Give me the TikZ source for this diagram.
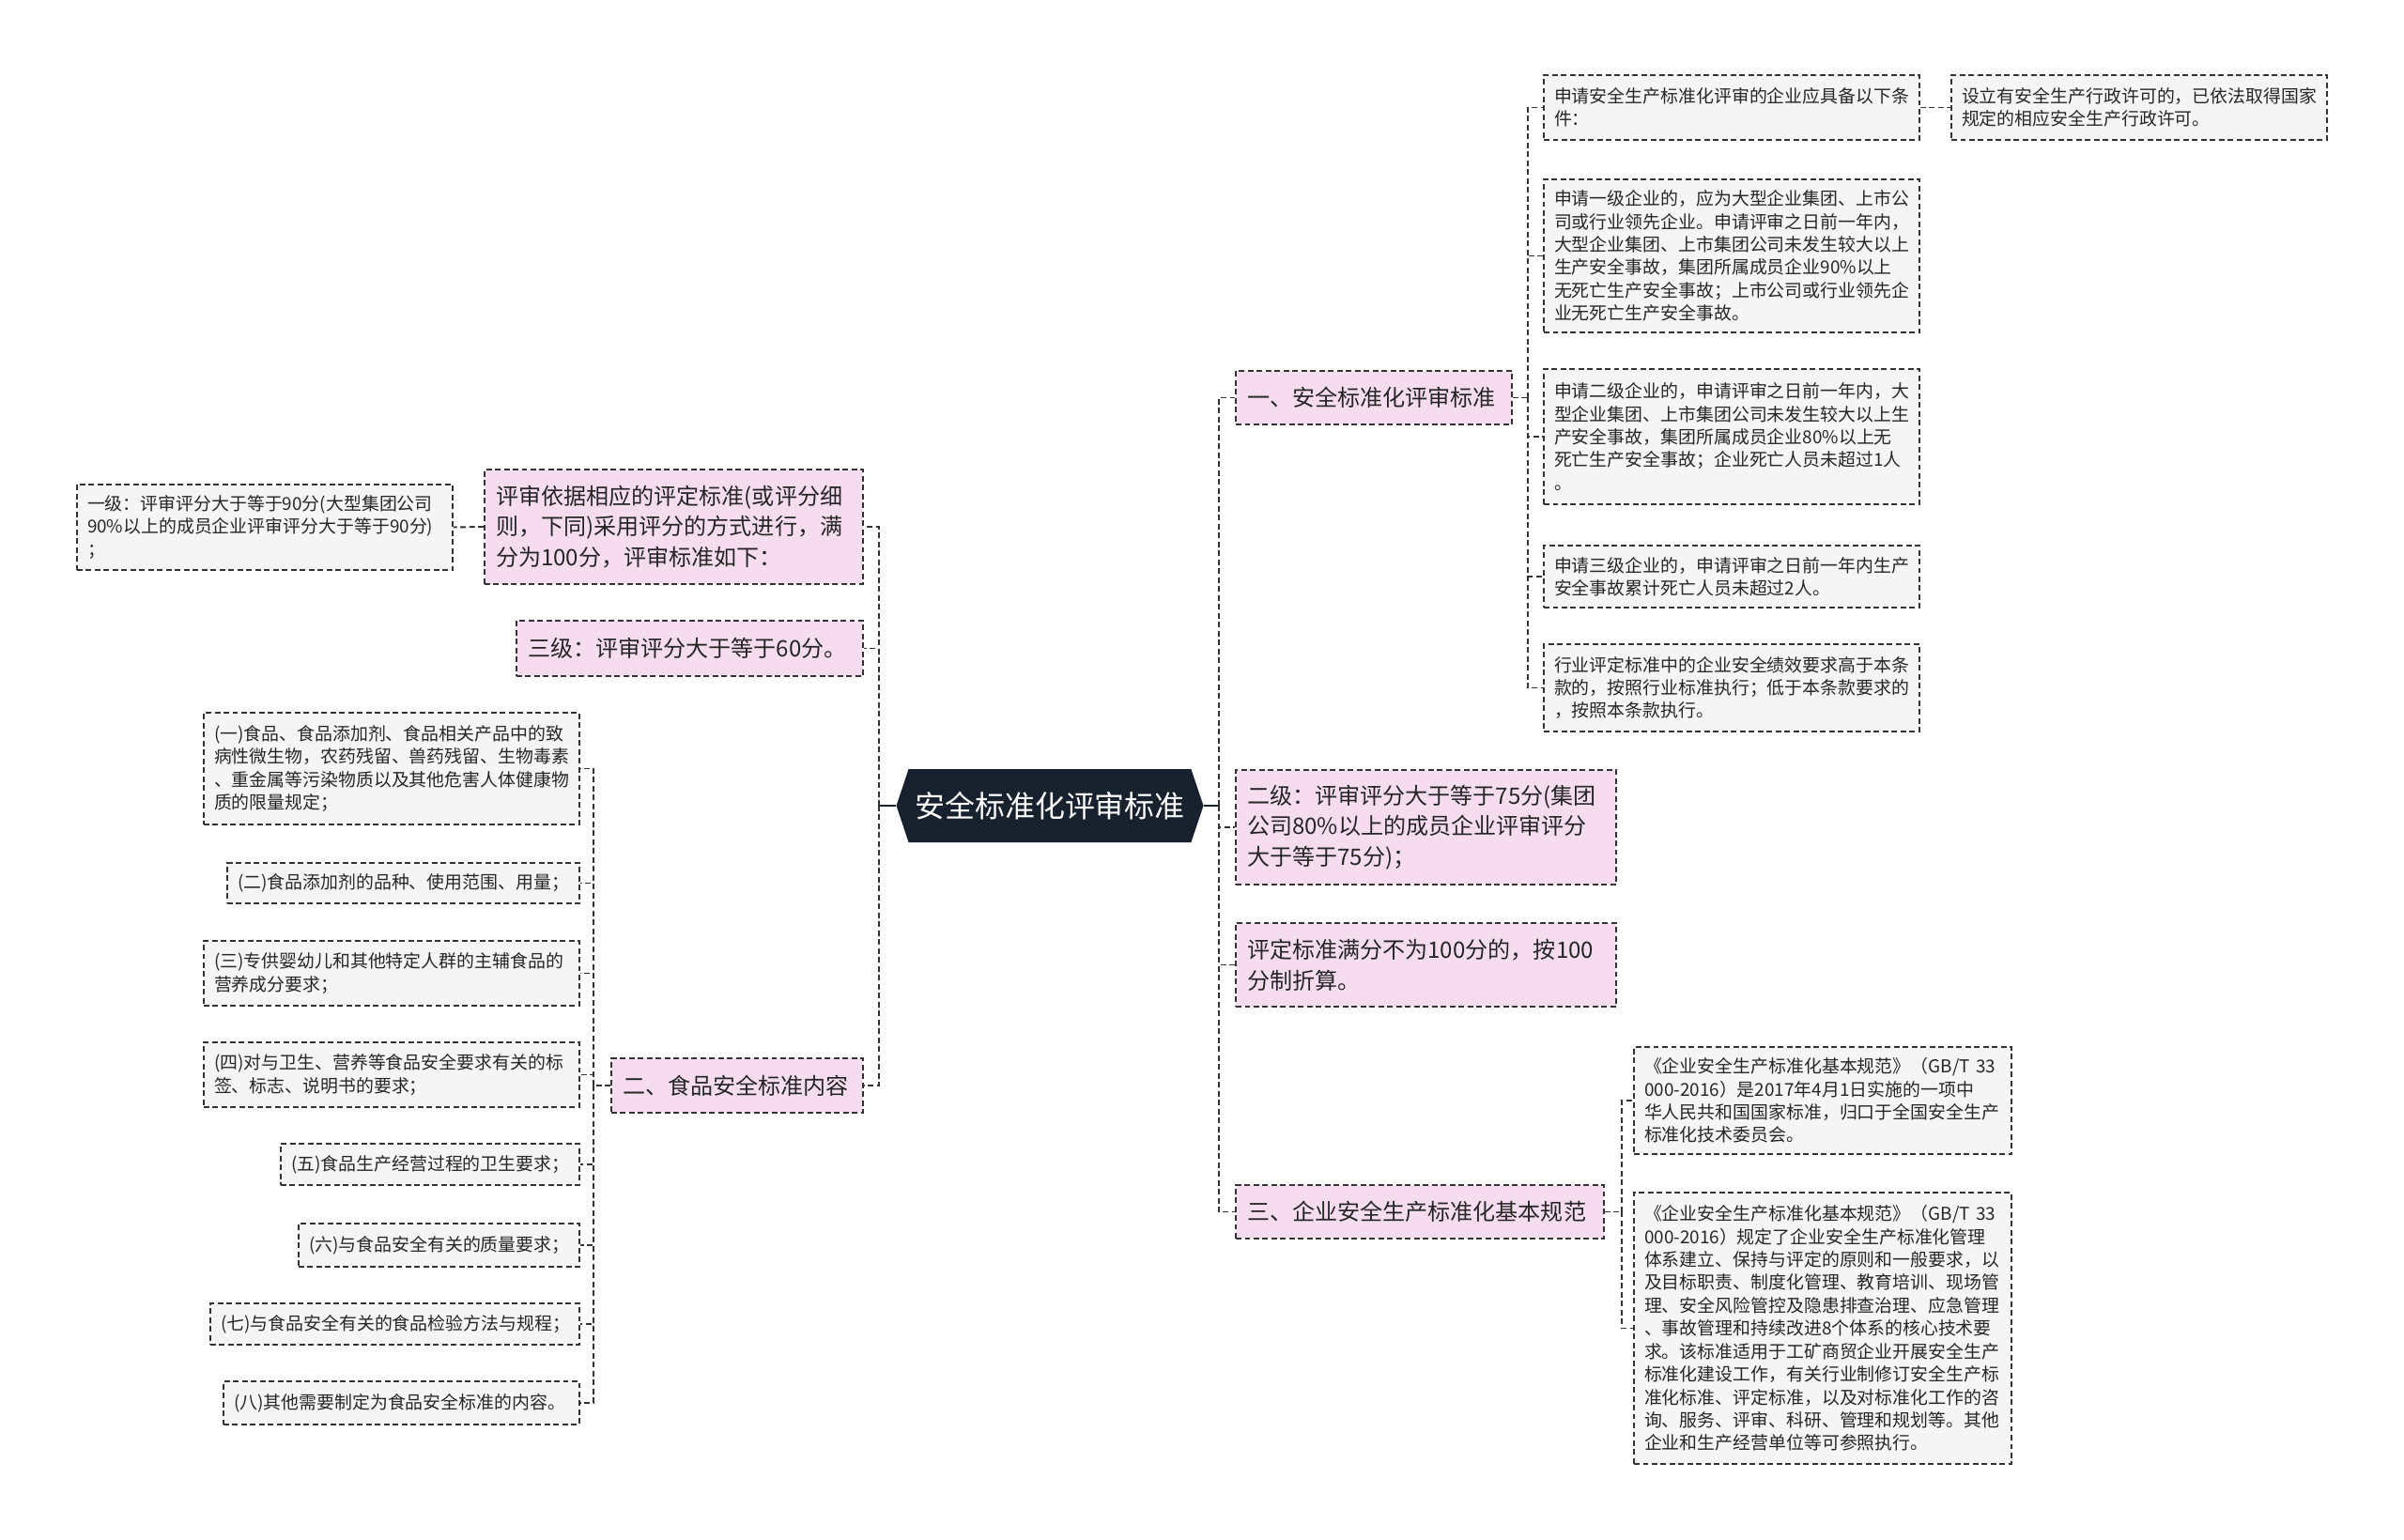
\documentclass[tikz,border=0pt]{standalone}
\usepackage{fontspec}
\setmainfont{Noto Sans CJK SC}
\usepackage{xcolor}
\usepackage{tikz}
\usetikzlibrary{shapes.symbols}

\definecolor{navy}{HTML}{18222F}
\definecolor{topicpink}{HTML}{F5DCEF}
\definecolor{leafgray}{HTML}{F5F5F5}
\definecolor{edgegray}{HTML}{333333}

\tikzset{
  root/.style={signal, signal to=west and east, signal pointer angle=143,
    fill=navy, text=white, font=\fontsize{9.1}{11}\selectfont,
    minimum width=3.27cm, minimum height=0.78cm, inner sep=0pt},
  box/.style={draw=edgegray, dash pattern=on 1.7pt off 1pt, line width=0.55pt,
    align=left, text=black!85},
  topic/.style={box, fill=topicpink, inner xsep=0.12cm,
    font=\fontsize{6.85}{9.3}\selectfont},
  leaf/.style={box, fill=leafgray, inner xsep=0.11cm,
    font=\fontsize{5.38}{6.95}\selectfont},
  link/.style={draw=edgegray, dash pattern=on 1.7pt off 1pt, line width=0.55pt},
  stub/.style={draw=navy, line width=0.8pt},
}

\begin{document}
\begin{tikzpicture}
\useasboundingbox (0,0) rectangle (25.6,-16.4);

% Root
\node[root] (main) at (11.18,-8.58) {安全标准化评审标准};

% Right branch
\node[topic, text width=2.70cm, minimum height=0.57cm] (std) at (14.63,-4.235) {一、安全标准化评审标准};
\node[topic, text width=3.81cm, minimum height=1.22cm] (lvtwo) at (15.185,-8.81) {二级：评审评分大于等于75分(集团\\公司80\%以上的成员企业评审评分\\大于等于75分)；};
\node[topic, text width=3.81cm, minimum height=0.89cm] (fullmark) at (15.185,-10.275) {评定标准满分不为100分的，按100\\分制折算。};
\node[topic, text width=3.68cm, minimum height=0.57cm] (norm) at (15.12,-12.905) {三、企业安全生产标准化基本规范};

% Conditions
\node[leaf, text width=3.78cm, minimum height=0.69cm] (cond) at (18.44,-1.145) {申请安全生产标准化评审的企业应具备以下条\\件：};
\node[leaf, text width=3.78cm, minimum height=0.69cm] (permit) at (22.78,-1.145) {设立有安全生产行政许可的，已依法取得国家\\规定的相应安全生产行政许可。};
\node[leaf, text width=3.78cm, minimum height=1.63cm] (firm1) at (18.44,-2.725) {申请一级企业的，应为大型企业集团、上市公\\司或行业领先企业。申请评审之日前一年内，\\大型企业集团、上市集团公司未发生较大以上\\生产安全事故，集团所属成员企业90\%以上\\无死亡生产安全事故；上市公司或行业领先企\\业无死亡生产安全事故。};
\node[leaf, text width=3.78cm, minimum height=1.44cm] (firm2) at (18.44,-4.65) {申请二级企业的，申请评审之日前一年内，大\\型企业集团、上市集团公司未发生较大以上生\\产安全事故，集团所属成员企业80\%以上无\\死亡生产安全事故；企业死亡人员未超过1人\\。};
\node[leaf, text width=3.78cm, minimum height=0.66cm] (firm3) at (18.44,-6.14) {申请三级企业的，申请评审之日前一年内生产\\安全事故累计死亡人员未超过2人。};
\node[leaf, text width=3.78cm, minimum height=0.93cm] (industry) at (18.44,-7.325) {行业评定标准中的企业安全绩效要求高于本条\\款的，按照行业标准执行；低于本条款要求的\\，按照本条款执行。};

% GB/T 33000
\node[leaf, text width=3.80cm, minimum height=1.14cm] (gbintro) at (19.41,-11.72) {《企业安全生产标准化基本规范》（GB/T 33\\000-2016）是2017年4月1日实施的一项中\\华人民共和国国家标准，归口于全国安全生产\\标准化技术委员会。};
\node[leaf, text width=3.80cm, minimum height=2.89cm] (gbscope) at (19.41,-14.145) {《企业安全生产标准化基本规范》（GB/T 33\\000-2016）规定了企业安全生产标准化管理\\体系建立、保持与评定的原则和一般要求，以\\及目标职责、制度化管理、教育培训、现场管\\理、安全风险管控及隐患排查治理、应急管理\\、事故管理和持续改进8个体系的核心技术要\\求。该标准适用于工矿商贸企业开展安全生产\\标准化建设工作，有关行业制修订安全生产标\\准化标准、评定标准，以及对标准化工作的咨\\询、服务、评审、科研、管理和规划等。其他\\企业和生产经营单位等可参照执行。};

% Left branch
\node[topic, text width=3.79cm, minimum height=1.22cm] (basis) at (7.175,-5.61) {评审依据相应的评定标准(或评分细\\则，下同)采用评分的方式进行，满\\分为100分，评审标准如下：};
\node[leaf, text width=3.78cm, minimum height=0.91cm] (lvone) at (2.82,-5.615) {一级：评审评分大于等于90分(大型集团公司\\90\%以上的成员企业评审评分大于等于90分)\\；};
\node[topic, text width=3.45cm, minimum height=0.59cm] (lvthree) at (7.345,-6.905) {三级：评审评分大于等于60分。};
\node[topic, text width=2.44cm, minimum height=0.58cm] (food) at (7.85,-11.56) {二、食品安全标准内容};

% Food items
\node[leaf, text width=3.78cm, minimum height=1.19cm] (item1) at (4.17,-8.185) {(一)食品、食品添加剂、食品相关产品中的致\\病性微生物，农药残留、兽药残留、生物毒素\\、重金属等污染物质以及其他危害人体健康物\\质的限量规定；};
\node[leaf, text width=3.53cm, minimum height=0.43cm] (item2) at (4.295,-9.405) {(二)食品添加剂的品种、使用范围、用量；};
\node[leaf, text width=3.78cm, minimum height=0.69cm] (item3) at (4.17,-10.365) {(三)专供婴幼儿和其他特定人群的主辅食品的\\营养成分要求；};
\node[leaf, text width=3.78cm, minimum height=0.69cm] (item4) at (4.17,-11.445) {(四)对与卫生、营养等食品安全要求有关的标\\签、标志、说明书的要求；};
\node[leaf, text width=2.96cm, minimum height=0.44cm] (item5) at (4.58,-12.40) {(五)食品生产经营过程的卫生要求；};
\node[leaf, text width=2.77cm, minimum height=0.46cm] (item6) at (4.675,-13.26) {(六)与食品安全有关的质量要求；};
\node[leaf, text width=3.71cm, minimum height=0.44cm] (item7) at (4.205,-14.10) {(七)与食品安全有关的食品检验方法与规程；};
\node[leaf, text width=3.57cm, minimum height=0.46cm] (item8) at (4.275,-14.94) {(八)其他需要制定为食品安全标准的内容。};

% Connectors
\coordinate (rfork) at ([xshift=0.16cm]main.east);
\coordinate (lfork) at ([xshift=-0.18cm]main.west);
\draw[stub] (main.east) -- (rfork);
\draw[stub] (main.west) -- (lfork);
\foreach \n in {std,lvtwo,fullmark,norm}
  \draw[link] (rfork) |- (\n.west);
\foreach \n in {basis,lvthree,food}
  \draw[link] (lfork) |- (\n.east);

\coordinate (stdfork) at ([xshift=0.16cm]std.east);
\draw[link] (std.east) -- (stdfork);
\foreach \n in {cond,firm1,firm2,firm3,industry}
  \draw[link] (stdfork) |- (\n.west);
\draw[link] (cond.east) -- (permit.west);

\coordinate (normfork) at ([xshift=0.18cm]norm.east);
\draw[link] (norm.east) -- (normfork);
\foreach \n in {gbintro,gbscope}
  \draw[link] (normfork) |- (\n.west);

\draw[link] (basis.west) -- (lvone.east);

\coordinate (foodfork) at ([xshift=-0.18cm]food.west);
\draw[link] (food.west) -- (foodfork);
\foreach \n in {item1,item2,item3,item4,item5,item6,item7,item8}
  \draw[link] (foodfork) |- (\n.east);

\end{tikzpicture}
\end{document}
